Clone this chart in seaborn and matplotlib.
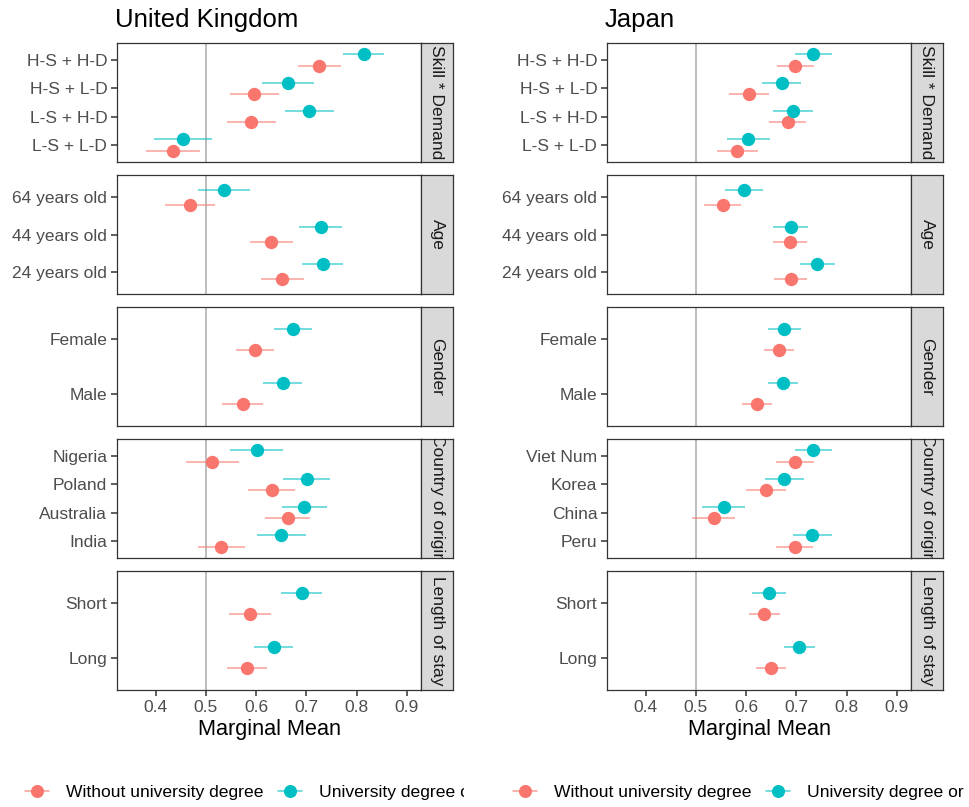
import numpy as np
import pandas as pd
import matplotlib
matplotlib.use("Agg")
import matplotlib.pyplot as plt
from matplotlib.lines import Line2D
import seaborn as sns

sns.set_theme(style="white")
plt.rcParams["font.family"] = ["Liberation Sans", "DejaVu Sans"]

# ---------------------------------------------------------------- data
groups = ["Without university degree", "University degree or higher"]
attributes = ["Skill * Demand", "Age", "Gender", "Country of origin", "Length of stay"]

levels_uk = {
    "Skill * Demand": ["H-S + H-D", "H-S + L-D", "L-S + H-D", "L-S + L-D"],
    "Age": ["64 years old", "44 years old", "24 years old"],
    "Gender": ["Female", "Male"],
    "Country of origin": ["Nigeria", "Poland", "Australia", "India"],
    "Length of stay": ["Short", "Long"],
}
levels_jp = {
    "Skill * Demand": ["H-S + H-D", "H-S + L-D", "L-S + H-D", "L-S + L-D"],
    "Age": ["64 years old", "44 years old", "24 years old"],
    "Gender": ["Female", "Male"],
    "Country of origin": ["Viet Num", "Korea", "China", "Peru"],
    "Length of stay": ["Short", "Long"],
}

# marginal means (order follows the level lists above)
uk_uni = {
    "Skill * Demand": [0.814, 0.664, 0.706, 0.454],
    "Age": [0.536, 0.729, 0.733],
    "Gender": [0.673, 0.653],
    "Country of origin": [0.601, 0.701, 0.696, 0.650],
    "Length of stay": [0.691, 0.635],
}
uk_uni_hw = {
    "Skill * Demand": [0.040, 0.052, 0.049, 0.058],
    "Age": [0.051, 0.043, 0.041],
    "Gender": [0.038, 0.039],
    "Country of origin": [0.053, 0.047, 0.045, 0.049],
    "Length of stay": [0.041, 0.039],
}
uk_no = {
    "Skill * Demand": [0.726, 0.596, 0.590, 0.434],
    "Age": [0.468, 0.630, 0.652],
    "Gender": [0.598, 0.573],
    "Country of origin": [0.513, 0.631, 0.663, 0.531],
    "Length of stay": [0.587, 0.581],
}
uk_no_hw = {
    "Skill * Demand": [0.043, 0.049, 0.049, 0.054],
    "Age": [0.050, 0.043, 0.043],
    "Gender": [0.038, 0.040],
    "Country of origin": [0.052, 0.047, 0.045, 0.046],
    "Length of stay": [0.042, 0.040],
}

jp_uni = {
    "Skill * Demand": [0.734, 0.671, 0.693, 0.604],
    "Age": [0.596, 0.689, 0.742],
    "Gender": [0.676, 0.673],
    "Country of origin": [0.734, 0.676, 0.555, 0.732],
    "Length of stay": [0.645, 0.706],
}
jp_uni_hw = {
    "Skill * Demand": [0.037, 0.039, 0.040, 0.043],
    "Age": [0.038, 0.035, 0.035],
    "Gender": [0.033, 0.030],
    "Country of origin": [0.037, 0.039, 0.043, 0.039],
    "Length of stay": [0.034, 0.031],
}
jp_no = {
    "Skill * Demand": [0.698, 0.606, 0.683, 0.582],
    "Age": [0.553, 0.687, 0.689],
    "Gender": [0.666, 0.621],
    "Country of origin": [0.698, 0.639, 0.535, 0.697],
    "Length of stay": [0.636, 0.650],
}
jp_no_hw = {
    "Skill * Demand": [0.037, 0.040, 0.037, 0.041],
    "Age": [0.037, 0.034, 0.033],
    "Gender": [0.030, 0.030],
    "Country of origin": [0.038, 0.040, 0.042, 0.037],
    "Length of stay": [0.031, 0.030],
}

x_ticks = [0.4, 0.5, 0.6, 0.7, 0.8, 0.9]
x_tick_labels = ["0.4", "0.5", "0.6", "0.7", "0.8", "0.9"]

countries = [
    ("United Kingdom", levels_uk, uk_no, uk_no_hw, uk_uni, uk_uni_hw),
    ("Japan", levels_jp, jp_no, jp_no_hw, jp_uni, jp_uni_hw),
]


def build_frame(levels, no, no_hw, uni, uni_hw):
    rows = []
    for attr in attributes:
        n = len(levels[attr])
        for i, lev in enumerate(levels[attr]):
            for g, est, hw, off in ((groups[0], no, no_hw, -0.2), (groups[1], uni, uni_hw, 0.2)):
                m = est[attr][i]
                h = hw[attr][i]
                rows.append(dict(attribute=attr, level=lev, group=g, estimate=m,
                                 lower=m - h, upper=m + h, ypos=(n - 1 - i) + off))
    return pd.DataFrame(rows)


# ---------------------------------------------------------------- layout
W, H = 969, 807
fig = plt.figure(figsize=(W / 100, H / 100), dpi=100)


def px_rect(left, top, width, height):
    return [left / W, 1 - (top + height) / H, width / W, height / H]


palette = {groups[0]: "#F8766D", groups[1]: "#00BFC4"}
col_left = [117, 607]
panel_w = 304
strip_w = 32
row_top = [43, 175, 307, 439, 571]
row_h = 119
xlim = (0.3228, 0.9285)

tick_col = "#333333"
label_col = "#4D4D4D"
marker_s = 92

for c, (title, levels, no, no_hw, uni, uni_hw) in enumerate(countries):
    df = build_frame(levels, no, no_hw, uni, uni_hw)
    left = col_left[c]
    fig.text((left - 2) / W, 1 - 20 / H, title, fontsize=18.5, ha="left",
             va="center", color="black")
    for r, attr in enumerate(attributes):
        sub = df[df["attribute"] == attr]
        n = len(levels[attr])
        ax = fig.add_axes(px_rect(left, row_top[r], panel_w, row_h))
        ax.axvline(0.5, color="#BDBDBD", lw=1.4, zorder=1)
        for g in groups:
            gs = sub[sub["group"] == g]
            ax.hlines(gs["ypos"], gs["lower"], gs["upper"], colors=palette[g],
                      alpha=0.7, lw=1.1, zorder=2)
            sns.scatterplot(data=gs, x="estimate", y="ypos", color=palette[g],
                            s=marker_s, linewidth=0, legend=False, ax=ax, zorder=3)
        ax.set_xlim(*xlim)
        ax.set_ylim(-0.6, n - 1 + 0.6)
        ax.set_yticks(range(n))
        ax.set_yticklabels(list(reversed(levels[attr])))
        ax.set_ylabel("")
        ax.tick_params(axis="y", left=True, length=4, width=1.1, color=tick_col,
                       labelsize=12.5, labelcolor=label_col, pad=3)
        ax.set_xticks(x_ticks)
        if r == len(attributes) - 1:
            ax.set_xticklabels(x_tick_labels)
            ax.tick_params(axis="x", bottom=True, length=4, width=1.1, color=tick_col,
                           labelsize=12.5, labelcolor=label_col, pad=3)
            ax.set_xlabel("Marginal Mean", fontsize=15.6, color="black", labelpad=3)
        else:
            ax.tick_params(axis="x", bottom=False, labelbottom=False)
            ax.set_xlabel("")
        for sp in ax.spines.values():
            sp.set_color(tick_col)
            sp.set_linewidth(0.9)
        ax.set_facecolor("white")

        # facet strip on the right
        sax = fig.add_axes(px_rect(left + panel_w, row_top[r], strip_w, row_h))
        sax.set_facecolor("#D9D9D9")
        sax.set_xticks([])
        sax.set_yticks([])
        for sp in sax.spines.values():
            sp.set_color(tick_col)
            sp.set_linewidth(0.9)
        sax.text(0.5, 0.5, attr, rotation=-90, ha="center", va="center",
                 fontsize=12.5, color="#1A1A1A", transform=sax.transAxes,
                 clip_on=True)

    # legend below each column
    leg_left = 0 if c == 0 else 488
    leg_right = 464 if c == 0 else W
    lax = fig.add_axes(px_rect(leg_left, 772, leg_right - leg_left, 35))
    lax.axis("off")
    handles = []
    for g in groups:
        base = np.array(matplotlib.colors.to_rgb(palette[g]))
        light = 0.7 * base + 0.3
        handles.append(Line2D([0], [0], color=light, lw=1.1, marker="o",
                              markersize=9.4, markerfacecolor=palette[g],
                              markeredgewidth=0))
    leg = lax.legend(handles, groups, loc="center left",
                     bbox_to_anchor=((25 if c == 0 else 513 - leg_left) / (leg_right - leg_left),
                                     (807 - 792) / 35),
                     ncol=2, frameon=False, fontsize=12.6, handlelength=1.37,
                     handletextpad=0.95, columnspacing=0.85, borderpad=0,
                     borderaxespad=0)
    for t in leg.get_texts():
        t.set_color("black")
        t.set_clip_on(True)
        t.set_clip_box(lax.bbox)

fig.savefig("out.png", dpi=100, facecolor="white")
